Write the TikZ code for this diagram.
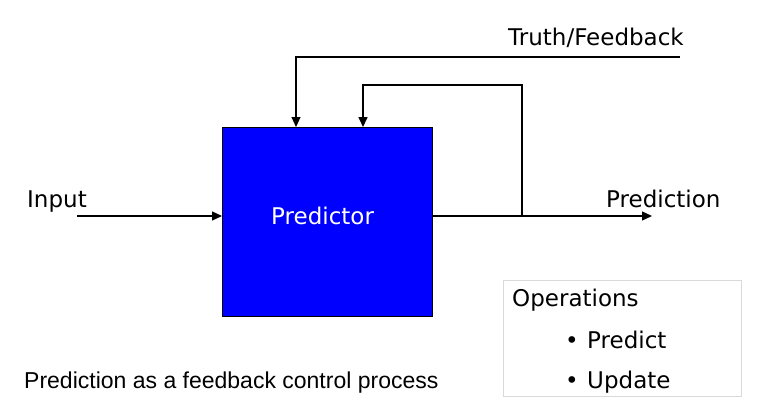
\documentclass[tikz,border=0pt]{standalone}
\usepackage{fontspec}
\setmainfont{DejaVu Sans}
\newfontfamily\capfont{Liberation Sans}
\usetikzlibrary{arrows.meta}
\tikzset{
  lbl/.style={anchor=base west, inner sep=0pt, font=\fontsize{23}{26}\selectfont},
  conn/.style={line width=1.3pt, -{Triangle[length=10pt,width=9pt]}},
}
\begin{document}
\begin{tikzpicture}[x=1pt,y=-1pt]
\useasboundingbox (0,0) rectangle (757,415);
\node[draw=black, fill=blue, line width=1.3pt, minimum width=210pt, minimum height=189pt, inner sep=0pt, anchor=north west] (pred) at (222,127) {};
\node[lbl, text=white] (predtxt) at (271,224) {Predictor};
\node[lbl] (input) at (27,207) {Input};
\node[lbl] (prediction) at (606,207) {Prediction};
\node[lbl] (truth) at (508,45) {Truth/Feedback};
\coordinate (inS) at (77,216);
\coordinate (outE) at (652,216);
\coordinate (tap) at (522,216);
\coordinate (fbTop) at (522,85);
\coordinate (fbIn) at (363,127);
\coordinate (trS) at (680,57);
\coordinate (trIn) at (296,127);
\draw[conn] (inS) -- (inS -| pred.west);
\draw[conn] (tap -| pred.east) -- (outE);
\draw[conn, line width=1.6pt] (tap) -- (fbTop) -| (fbIn);
\draw[conn, line width=1.1pt] (trS) -| (trIn);
\node[draw=black!15, line width=1pt, minimum width=238pt, minimum height=116pt, inner sep=0pt, anchor=north west] (ops) at (503,280) {};
\node[lbl] (opstitle) at (512,306) {Operations};
\node[lbl] (b1) at (565,348) {\textbullet};
\node[lbl] (op1) at (587,348) {Predict};
\node[lbl] (b2) at (565,388) {\textbullet};
\node[lbl] (op2) at (587,388) {Update};
\node[lbl, font=\capfont\fontsize{23}{26}\selectfont] (caption) at (24,388) {Prediction as a feedback control process};
\end{tikzpicture}
\end{document}
